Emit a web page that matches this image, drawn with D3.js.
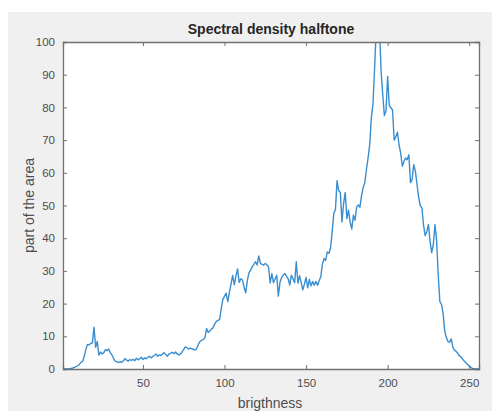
<!DOCTYPE html>
<html>
<head>
<meta charset="utf-8">
<script src="https://cdn.jsdelivr.net/npm/d3@7"></script>
<style>
  body { margin: 0; background: #fff; }
  svg { display: block; font-family: "Liberation Sans", Arial, sans-serif; }
</style>
</head>
<body>
<div id="chart"></div>
<script>
// brightness levels 1..256 and their share of the area
var levels = d3.range(1, 257);
var density = [
  0,0,0,0,0.1,0.2,0.3,0.5,0.7,1.0,
  1.4,2.0,2.3,3.8,6.0,7.5,7.4,7.8,8.0,12.8,
  6.6,8.4,4.2,5.2,4.6,5.0,5.9,5.6,6.1,5.0,
  4.3,3.2,2.4,2.2,2.0,2.2,2.1,2.5,3.2,2.7,
  2.4,2.9,2.6,3.0,2.5,3.3,2.8,3.1,3.6,2.9,
  3.4,3.1,3.6,3.9,3.4,3.8,4.2,4.6,3.9,4.3,
  4.1,4.6,5.0,4.4,3.9,4.6,4.8,5.1,4.7,5.2,
  4.6,4.3,4.6,5.2,6.0,6.8,6.5,6.1,6.4,6.2,
  6.0,5.8,6.3,7.6,8.4,8.8,9.0,9.6,12.4,11.2,
  11.6,12.2,12.6,13.8,14.6,14.8,15.2,18.5,21.3,22.2,
  23.2,20.6,23.4,26.0,28.6,25.8,28.4,30.6,26.5,27.6,
  27.2,25.0,23.3,27.0,29.5,30.2,31.3,32.0,32.8,31.8,
  34.6,32.3,32.0,31.8,32.3,31.8,31.2,26.3,29.2,26.4,
  27.5,28.7,22.3,26.5,28.0,28.7,29.2,28.3,27.6,25.7,
  28.7,27.6,26.4,32.8,26.3,28.5,26.4,24.2,26.0,28.0,
  24.8,27.4,25.4,26.8,25.6,26.8,25.6,27.0,28.2,32.0,
  33.8,33.2,35.8,35.4,37.0,42.0,47.6,48.8,57.6,54.5,
  54.0,45.0,50.6,54.0,46.0,48.6,45.0,42.8,47.0,45.5,
  49.5,50.2,49.4,53.0,55.5,57.0,61.0,64.5,68.6,76.8,
  80.9,92.0,104,110,104,91.0,83.9,77.5,79.0,89.5,
  80.5,79.9,79.2,70.0,71.0,72.4,68.5,66.0,62.0,63.5,
  64.5,64.0,65.5,57.0,58.0,62.5,60.5,56.5,52.5,50.0,
  49.3,44.0,40.8,42.0,44.2,39.0,35.6,38.0,44.2,39.5,
  29.0,20.6,19.8,17.0,11.6,9.6,8.4,8.2,9.2,6.6,
  5.8,5.4,4.8,4.0,3.6,3.0,2.4,1.9,1.4,0.9,
  0.5,0.2,0.1,0,0,0
];
var xTicks = [50, 100, 150, 200, 250];
var yTicks = d3.range(0, 101, 10);

var width = 492, height = 411;
var plotL = 63, plotR = 479, plotT = 42, plotB = 369;

var svg = d3.select('#chart')
    .append('svg')
    .attr('width', width)
    .attr('height', height);

// figure background
svg.append('rect')
    .attr('x', 8).attr('y', 12)
    .attr('width', width - 8).attr('height', height - 12)
    .attr('fill', '#f0f0f0');

svg.append('rect')
    .attr('x', plotL).attr('y', plotT)
    .attr('width', plotR - plotL).attr('height', plotB - plotT)
    .attr('fill', '#fff');

var x = d3.scaleLinear().domain([1, 256]).range([plotL, plotR]);
var y = d3.scaleLinear().domain([0, 100]).range([plotB, plotT]);

svg.append('clipPath').attr('id', 'clip')
    .append('rect')
    .attr('x', plotL).attr('y', plotT)
    .attr('width', plotR - plotL).attr('height', plotB - plotT);

var line = d3.line()
    .x((d, i) => x(levels[i]))
    .y(d => y(d));

svg.append('path')
    .datum(density)
    .attr('clip-path', 'url(#clip)')
    .attr('fill', 'none')
    .attr('stroke', '#3a8ed0')
    .attr('stroke-width', 1.4)
    .attr('stroke-linejoin', 'round')
    .attr('d', line);

var axisColor = '#707070';
var tickLen = 4;

var gx = svg.append('g')
    .attr('transform', `translate(0,${plotB})`)
    .call(d3.axisBottom(x).tickValues(xTicks).tickSize(-tickLen).tickPadding(10));
var gxTop = svg.append('g')
    .attr('transform', `translate(0,${plotT})`)
    .call(d3.axisTop(x).tickValues(xTicks).tickSize(-tickLen).tickFormat(''));
var gy = svg.append('g')
    .attr('transform', `translate(${plotL},0)`)
    .call(d3.axisLeft(y).tickValues(yTicks).tickSize(-tickLen).tickPadding(8));
var gyRight = svg.append('g')
    .attr('transform', `translate(${plotR},0)`)
    .call(d3.axisRight(y).tickValues(yTicks).tickSize(-tickLen).tickFormat(''));

[gx, gxTop, gy, gyRight].forEach(g => {
    g.select('.domain').attr('stroke', axisColor).attr('stroke-width', 1.3);
    g.selectAll('.tick line').attr('stroke', axisColor);
    g.selectAll('.tick text')
        .attr('fill', '#4d4d4d')
        .style('font-size', '11.5px')
        .style('font-family', '"Liberation Sans", Arial, sans-serif');
});

svg.append('text')
    .attr('x', (plotL + plotR) / 2)
    .attr('y', 34)
    .attr('text-anchor', 'middle')
    .attr('fill', '#262626')
    .style('font-size', '14px')
    .style('font-weight', 'bold')
    .text('Spectral density halftone');

svg.append('text')
    .attr('x', (plotL + plotR) / 2 - 1)
    .attr('y', 408)
    .attr('text-anchor', 'middle')
    .attr('fill', '#4d4d4d')
    .style('font-size', '14px')
    .text('brigthness');

svg.append('text')
    .attr('transform', `translate(34,${(plotT + plotB) / 2}) rotate(-90)`)
    .attr('text-anchor', 'middle')
    .attr('fill', '#4d4d4d')
    .style('font-size', '14px')
    .text('part of the area');
</script>
</body>
</html>
